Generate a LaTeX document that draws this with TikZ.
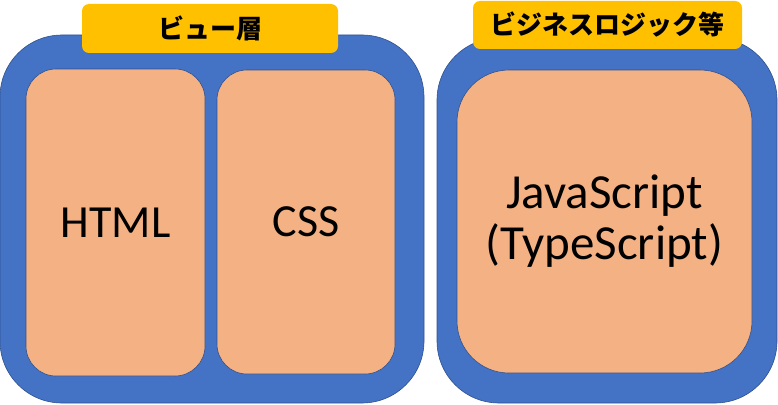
\documentclass[tikz,border=0pt]{standalone}
\usepackage{fontspec}
\setmainfont{Carlito}
\newfontfamily\jpfont{Noto Sans CJK JP}
\definecolor{boxblue}{HTML}{4472C4}
\definecolor{edgeblue}{HTML}{2F528F}
\definecolor{peach}{HTML}{F4B183}
\definecolor{tagyellow}{HTML}{FFC000}
\tikzset{
    outerbox/.style={rectangle, rounded corners=62pt, fill=boxblue, draw=edgeblue, line width=.6pt, inner sep=0pt},
    innerbox/.style={rectangle, rounded corners=30pt, fill=peach, draw=edgeblue, line width=.6pt, inner sep=0pt,
        font=\fontsize{46}{51}\selectfont, align=center},
    tagbox/.style={rectangle, rounded corners=7pt, fill=tagyellow, inner sep=0pt,
        font=\jpfont\bfseries\fontsize{26}{30}\selectfont}
}

\begin{document}
\begin{tikzpicture}[x=1pt, y=-1pt]
    \useasboundingbox (0,0) rectangle (778,404);
    % View layer
    \node[outerbox, minimum width=424pt, minimum height=368pt] (View) at (212,219) {};
    \node[innerbox, minimum width=179pt, minimum height=307pt] (Html) at (115.5,222.5) {HTML};
    \node[innerbox, minimum width=178pt, minimum height=304pt] (Css) at (306,222) {CSS};
    \node[tagbox, minimum width=256pt, minimum height=49pt] (View-tag) at (210,28.5) {ビュー層};
    % Business logic
    \node[outerbox, minimum width=340pt, minimum height=365pt] (Logic) at (607,220.5) {};
    \node[innerbox, rounded corners=52pt, minimum width=295pt, minimum height=303pt,
        font=\fontsize{49}{51}\selectfont] (Script) at (604.5,221.5) {JavaScript\\(TypeScript)};
    \node[tagbox, minimum width=269pt, minimum height=48pt] (Logic-tag) at (607.5,25) {ビジネスロジック等};
\end{tikzpicture}
\end{document}
